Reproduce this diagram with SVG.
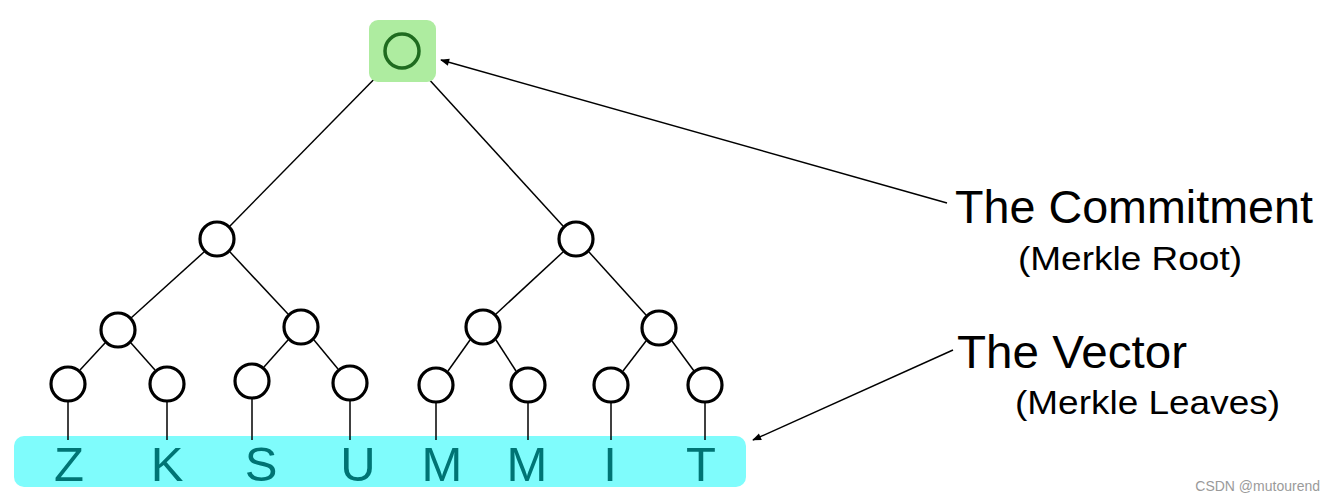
<svg xmlns="http://www.w3.org/2000/svg" width="1335" height="502" viewBox="0 0 1335 502">
<style>
.n{fill:#fff;stroke:#000;stroke-width:3.2}
.e{stroke:#000;stroke-width:1.5;fill:none}
.lt{font-family:"Liberation Sans",Arial,sans-serif;font-size:49px;fill:#007474;text-anchor:middle}
.big{font-family:"Liberation Sans",Arial,sans-serif;font-size:47px;fill:#000}
.sm{font-family:"Liberation Sans",Arial,sans-serif;font-size:34px;fill:#000}
</style>
<defs>
<marker id="ah" viewBox="0 0 10 10" refX="9" refY="5" markerWidth="10" markerHeight="9" markerUnits="userSpaceOnUse" orient="auto">
<path d="M0,1 L10,5 L0,9 z" fill="#000"/>
</marker>
</defs>
<rect width="1335" height="502" fill="#fff"/>
<g id="vector">
<rect x="14" y="436" width="732" height="51" rx="10" fill="#7ffcfc"/>
</g>
<g id="connectors">
<line class="e" x1="389" y1="64" x2="230" y2="226"/>
<line class="e" x1="415" y1="64" x2="563" y2="226"/>
<line class="e" x1="204" y1="252" x2="131" y2="318"/>
<line class="e" x1="230" y1="252" x2="288" y2="314"/>
<line class="e" x1="563" y1="252" x2="496" y2="314"/>
<line class="e" x1="589" y1="252" x2="646" y2="315"/>
<line class="e" x1="105" y1="343" x2="80" y2="370"/>
<line class="e" x1="131" y1="343" x2="155" y2="370"/>
<line class="e" x1="288" y1="340" x2="264" y2="367"/>
<line class="e" x1="314" y1="340" x2="338" y2="369"/>
<line class="e" x1="470" y1="340" x2="448" y2="371"/>
<line class="e" x1="496" y1="340" x2="516" y2="371"/>
<line class="e" x1="646" y1="341" x2="623" y2="371"/>
<line class="e" x1="672" y1="341" x2="694" y2="371"/>
<line class="e" x1="68" y1="402" x2="68" y2="440"/>
<line class="e" x1="167" y1="402" x2="167" y2="440"/>
<line class="e" x1="252" y1="399" x2="252" y2="440"/>
<line class="e" x1="350" y1="401" x2="350" y2="440"/>
<line class="e" x1="436" y1="403" x2="436" y2="440"/>
<line class="e" x1="528" y1="403" x2="528" y2="440"/>
<line class="e" x1="611" y1="403" x2="611" y2="440"/>
<line class="e" x1="705" y1="403" x2="705" y2="440"/>
<line class="e" x1="947" y1="203" x2="441" y2="60" marker-end="url(#ah)"/>
<line class="e" x1="953" y1="350" x2="753" y2="440" marker-end="url(#ah)"/>
</g>
<g id="root">
<rect x="369" y="20" width="67" height="62" rx="9" fill="#aeeca0"/>
<circle cx="402" cy="51" r="17" fill="none" stroke="#1f6b1f" stroke-width="3.5"/>
</g>
<g id="n1"><circle class="n" cx="217" cy="239" r="17"/></g>
<g id="n2"><circle class="n" cx="576" cy="239" r="17"/></g>
<g id="n3"><circle class="n" cx="118" cy="330" r="17"/></g>
<g id="n4"><circle class="n" cx="301" cy="327" r="17"/></g>
<g id="n5"><circle class="n" cx="483" cy="327" r="17"/></g>
<g id="n6"><circle class="n" cx="659" cy="328" r="17"/></g>
<g id="leaf1"><circle class="n" cx="68" cy="384" r="17"/></g>
<g id="leaf2"><circle class="n" cx="167" cy="384" r="17"/></g>
<g id="leaf3"><circle class="n" cx="252" cy="381" r="17"/></g>
<g id="leaf4"><circle class="n" cx="350" cy="383" r="17"/></g>
<g id="leaf5"><circle class="n" cx="436" cy="385" r="17"/></g>
<g id="leaf6"><circle class="n" cx="528" cy="385" r="17"/></g>
<g id="leaf7"><circle class="n" cx="611" cy="385" r="17"/></g>
<g id="leaf8"><circle class="n" cx="705" cy="385" r="17"/></g>
<g id="letters">
<text class="lt" x="69" y="481">Z</text>
<text class="lt" x="167" y="481">K</text>
<text class="lt" x="261" y="481">S</text>
<text class="lt" x="358" y="481">U</text>
<text class="lt" x="442" y="481">M</text>
<text class="lt" x="527" y="481">M</text>
<text class="lt" x="610" y="481">I</text>
<text class="lt" x="701" y="481">T</text>
</g>
<g id="labels">
<text class="big" x="955" y="223" textLength="358" lengthAdjust="spacingAndGlyphs">The Commitment</text>
<text class="sm" x="1018" y="270" textLength="224" lengthAdjust="spacingAndGlyphs">(Merkle Root)</text>
<text class="big" x="957" y="368" textLength="230" lengthAdjust="spacingAndGlyphs">The Vector</text>
<text class="sm" x="1015" y="414" textLength="265" lengthAdjust="spacingAndGlyphs">(Merkle Leaves)</text>
<text x="1320" y="491" font-family="'Liberation Sans',Arial,sans-serif" font-size="14" fill="#9a9a9a" text-anchor="end">CSDN @mutourend</text>
</g>
</svg>
